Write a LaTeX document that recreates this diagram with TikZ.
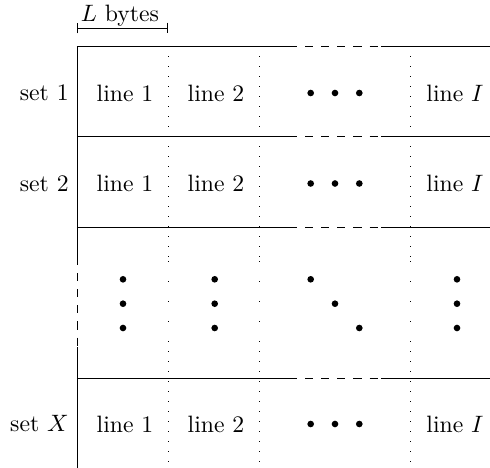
\documentclass[tikz,border=0pt]{standalone}
\usetikzlibrary{arrows.meta}
\begin{document}
\begin{tikzpicture}[x=0.422pt,y=-0.422pt,
  dashline/.style={dash pattern=on 3.4pt off 3.4pt},
  dotline/.style={dash pattern=on 0.4pt off 3.82pt},
  sparsedot/.style={dash pattern=on 0.4pt off 8.04pt},
  setlbl/.style={anchor=east},
  celllbl/.style={anchor=center},
  dotmark/.style={circle,fill=black,inner sep=0pt,minimum size=2.8pt}]
\useasboundingbox (0,0) rectangle (490,468);

% dimension line
\coordinate (dl) at (77,28);
\coordinate (dr) at (168,28);
\draw[{Bar[width=4.5pt]}-{Bar[width=4.5pt]}] (dl) -- (dr);
\node[anchor=base,inner sep=0pt] (lbytes) at (120,21) {$L$ bytes};

% horizontal lines
\foreach \y/\n in {46/a,136/b,227/c,378/d}{
  \coordinate (h\n1) at (77,\y);
  \coordinate (h\n2) at (289,\y);
  \coordinate (h\n3) at (381,\y);
  \coordinate (h\n4) at (490,\y);
  \draw (h\n1) -- (h\n2);
  \draw[dashline] (h\n2) -- (h\n3);
  \draw (h\n3) -- (h\n4);
}

% left border
\coordinate (v1) at (77,46);
\coordinate (v2) at (77,257);
\coordinate (v3) at (77,347);
\coordinate (v4) at (77,468);
\draw (v1) -- (v2);
\draw[dashline] (v2) -- (v3);
\draw (v3) -- (v4);

% dotted separators
\foreach \x/\n in {168/p,259/q,410/r}{
  \coordinate (\n1) at (\x,46);
  \coordinate (\n2) at (\x,261);
  \coordinate (\n3) at (\x,341);
  \coordinate (\n4) at (\x,468);
  \draw[dotline] (\n1) -- (\n2);
  \draw[sparsedot] (\n2) -- (\n3);
  \draw[dotline] (\n3) -- (\n4);
}

% row labels
\node[setlbl] (s1) at (77,93) {set 1};
\node[setlbl] (s2) at (77,183.5) {set 2};
\node[setlbl] (sx) at (77,424) {set $X$};

% row 1
\node[celllbl] (l11) at (125,93) {line 1};
\node[celllbl] (l12) at (216,93) {line 2};
\node[celllbl] (l1i) at (455,93) {line $I$};
\node[dotmark] (d1a) at (310.7,93) {};
\node[dotmark] (d1b) at (335,93) {};
\node[dotmark] (d1c) at (359.3,93) {};

% row 2
\node[celllbl] (l21) at (125,183.5) {line 1};
\node[celllbl] (l22) at (216,183.5) {line 2};
\node[celllbl] (l2i) at (455,183.5) {line $I$};
\node[dotmark] (d2a) at (310.7,183.5) {};
\node[dotmark] (d2b) at (335,183.5) {};
\node[dotmark] (d2c) at (359.3,183.5) {};

% row X
\node[celllbl] (lx1) at (125,424) {line 1};
\node[celllbl] (lx2) at (216,424) {line 2};
\node[celllbl] (lxi) at (455,424) {line $I$};
\node[dotmark] (dxa) at (310.7,424) {};
\node[dotmark] (dxb) at (335,424) {};
\node[dotmark] (dxc) at (359.3,424) {};

% vertical ellipsis row
\foreach \x/\n in {123/c1,214.7/c2,457/c4}{
  \node[dotmark] (\n a) at (\x,279.3) {};
  \node[dotmark] (\n b) at (\x,303.7) {};
  \node[dotmark] (\n c) at (\x,328) {};
}
\node[dotmark] (c3a) at (310.7,279.3) {};
\node[dotmark] (c3b) at (335,303.7) {};
\node[dotmark] (c3c) at (359.3,328) {};
\end{tikzpicture}
\end{document}
